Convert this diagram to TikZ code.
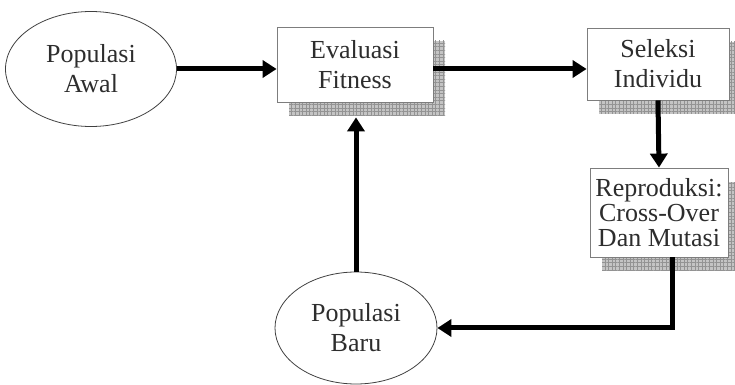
\documentclass[tikz,border=0pt]{standalone}
\usepackage{fontspec}
\setmainfont{Liberation Serif}
\usetikzlibrary{arrows.meta,positioning,shapes.geometric,shadows,patterns.meta}
\definecolor{inkgray}{RGB}{45,45,45}
\definecolor{framegray}{RGB}{125,125,125}
\definecolor{shadegray}{RGB}{196,196,196}

\begin{document}
\begin{tikzpicture}[x=0.5pt, y=-0.5pt,
  every node/.style={font=\fontsize{13}{15}\selectfont, text=inkgray, align=center},
  stage/.style={draw=framegray, fill=white, inner sep=0pt,
    drop shadow={shadow xshift=6pt, shadow yshift=-7pt, opacity=1, fill=shadegray,
      postaction={pattern={Hatch[angle=0,distance=1.8pt,line width=0.25pt]}, pattern color=gray!85}}},
  pool/.style={ellipse, draw=black!75, inner sep=0pt},
  flow/.style={line width=2.5pt, -{Triangle[length=7pt,width=8.5pt]}}]
\useasboundingbox (0,0) rectangle (735,385);
% start and new population
\node[pool, minimum width=85.5pt, minimum height=57.5pt] (awal) at (91,69) {Populasi\\Awal};
\node[pool, minimum width=81pt, minimum height=56pt] (baru) at (356,328) {Populasi\\Baru};
% process steps
\node[stage, minimum width=78pt, minimum height=37.5pt] (eval) at (355,64.5) {Evaluasi\\Fitness};
\node[stage, minimum width=71pt, minimum height=36pt] (seleksi) at (658,64) {Seleksi\\Individu};
\node[stage, minimum width=69pt, minimum height=44.5pt,
  font=\fontsize{13}{12.5}\selectfont] (repro) at (659,212.5) {Reproduksi:\\Cross-Over\\Dan Mutasi};
\coordinate (evalbase) at ([yshift=-7.5pt]eval.south);
% flow of the loop
\draw[flow] (awal) -- (awal -| eval.west);
\draw[flow] (eval.east |- awal) -- (seleksi.west |- awal);
\draw[flow] (seleksi.south) -- (repro.north);
\draw[flow] ([xshift=6.5pt]repro.south) |- (baru.east);
\draw[flow] (baru) -- (baru |- evalbase);
\end{tikzpicture}
\end{document}
